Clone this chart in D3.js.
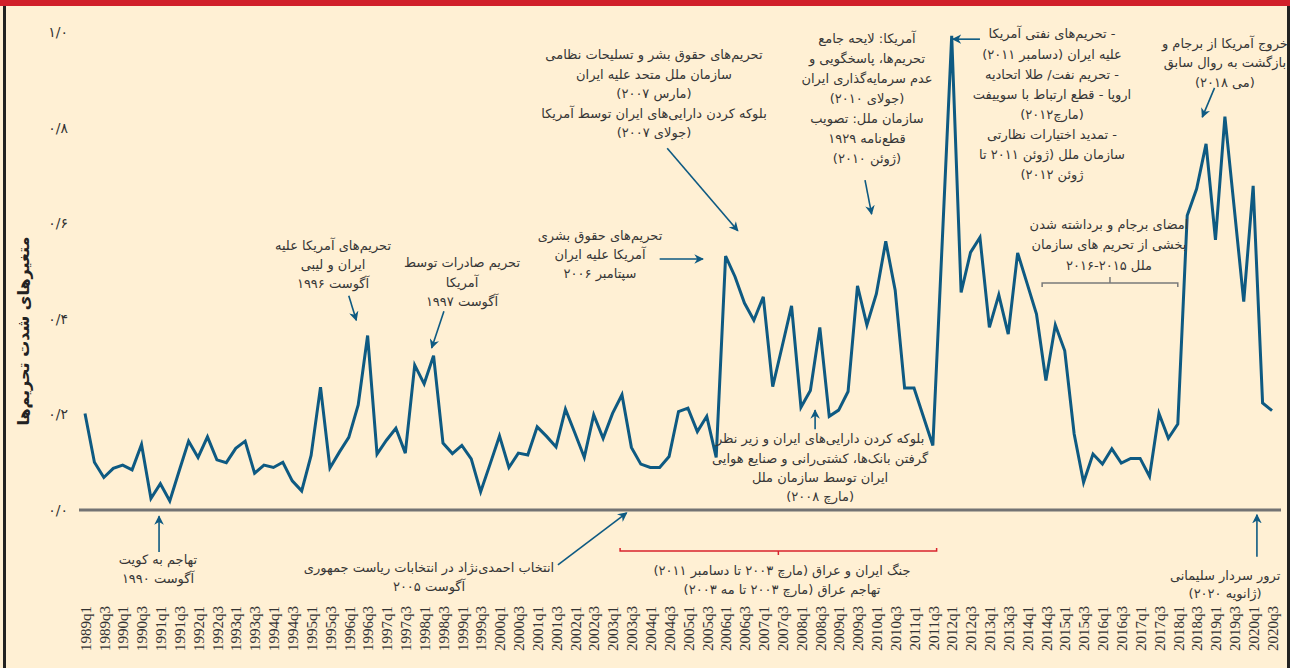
<!DOCTYPE html>
<html><head><meta charset="utf-8">
<script src="https://cdn.jsdelivr.net/npm/d3@7/dist/d3.min.js"></script>
<style>
html,body{margin:0;padding:0;background:#fff0d4;}
svg{display:block;}
</style></head><body>
<svg id="chart" width="1290" height="668"></svg>
<script>
// ---------- DATA ----------
const startYear = 1989;
const endYear = 2020, endQuarter = 3;
// sanctions intensity index, quarterly 1989q1 .. 2020q3
const sanctionIndex = [
  0.202,0.100,0.068,0.087,0.094,0.084,0.137,0.024,0.055,0.019,
  0.082,0.144,0.110,0.153,0.105,0.099,0.129,0.144,0.077,0.094,
  0.089,0.100,0.061,0.040,0.114,0.257,0.088,0.121,0.152,0.220,
  0.365,0.117,0.146,0.171,0.119,0.303,0.264,0.323,0.140,0.118,
  0.135,0.107,0.038,0.096,0.155,0.089,0.119,0.115,0.174,0.154,
  0.132,0.211,0.161,0.110,0.199,0.150,0.202,0.241,0.131,0.096,
  0.089,0.089,0.112,0.206,0.213,0.164,0.196,0.110,0.531,0.488,
  0.433,0.397,0.446,0.258,0.342,0.427,0.215,0.250,0.382,0.196,
  0.209,0.248,0.469,0.387,0.452,0.562,0.460,0.255,0.255,0.195,
  0.135,0.563,0.992,0.455,0.539,0.570,0.382,0.450,0.368,0.538,
  0.474,0.410,0.271,0.387,0.333,0.159,0.058,0.117,0.096,0.128,
  0.098,0.108,0.108,0.070,0.202,0.150,0.180,0.616,0.672,0.766,
  0.565,0.823,0.630,0.436,0.678,0.224,0.208
];
const yTickValues = [0, 0.2, 0.4, 0.6, 0.8, 1.0];
const yTickLabels = ["۰/۰","۰/۲","۰/۴","۰/۶","۰/۸","۱/۰"];
const yTitle = "متغیرهای شدت تحریم‌ها";

// quarter categories
const categories = [];
for (let y = startYear; y <= endYear; y++) {
  for (let q = 1; q <= 4; q++) {
    if (y === endYear && q > endQuarter) break;
    categories.push(y + "q" + q);
  }
}
const xTickLabels = categories.filter((c, i) => i % 2 === 0);

// annotations: text lines
const annoTexts = [
  ["تحریم‌های آمریکا علیه","ایران و لیبی","آگوست ۱۹۹۶"],
  ["تحریم صادرات توسط","آمریکا","آگوست ۱۹۹۷"],
  ["تحریم‌های حقوق بشری","آمریکا علیه ایران","سپتامبر ۲۰۰۶"],
  ["تحریم‌های حقوق بشر و تسلیحات نظامی","سازمان ملل متحد علیه ایران","(مارس ۲۰۰۷)","بلوکه کردن  دارایی‌های ایران توسط آمریکا","(جولای ۲۰۰۷)"],
  ["آمریکا:  لایحه جامع","تحریم‌ها، پاسخگویی و","عدم سرمایه‌گذاری ایران","(جولای ۲۰۱۰)","سازمان ملل:  تصویب","قطع‌نامه ۱۹۲۹","(ژوئن ۲۰۱۰)"],
  ["- تحریم‌های نفتی آمریکا","علیه ایران (دسامبر ۲۰۱۱)","- تحریم نفت/ طلا اتحادیه","اروپا - قطع ارتباط با سوییفت","(مارچ۲۰۱۲)","- تمدید اختیارات نظارتی","سازمان ملل (ژوئن ۲۰۱۱ تا","ژوئن ۲۰۱۲)"],
  ["خروج آمریکا از برجام و","بازگشت به روال سابق","(می ۲۰۱۸)"],
  ["امضای برجام و برداشته شدن","بخشی از تحریم های سازمان","ملل ۲۰۱۵-۲۰۱۶"],
  ["بلوکه کردن دارایی‌های ایران و زیر نظر","گرفتن بانک‌ها، کشتی‌رانی و صنایع هوایی","ایران توسط سازمان ملل","(مارچ ۲۰۰۸)"],
  ["تهاجم به کویت","آگوست ۱۹۹۰"],
  ["انتخاب احمدی‌نژاد در انتخابات ریاست جمهوری","آگوست ۲۰۰۵"],
  ["جنگ ایران و عراق  (مارچ ۲۰۰۳ تا دسامبر ۲۰۱۱)","تهاجم عراق (مارچ ۲۰۰۳ تا مه ۲۰۰۳)"],
  ["ترور سردار سلیمانی","(ژانویه ۲۰۲۰)"]
];
// annotation anchors in chart units: [quarter index, index value] of first line centre, line step px
const annoPos = [
  [26.33,0.554,19],[40.02,0.517,19.5],[54.67,0.575,19],[60.40,0.952,19.5],
  [83.01,0.987,20],[102.65,0.996,20.1],[121.0,0.977,19.5],[108.70,0.598,20.5],
  [78.03,0.149,19.3],[7.75,-0.103,19],[36.52,-0.121,19],[73.99,-0.126,19],[121.02,-0.136,18.5]
];
// arrows in chart units: [i1, v1, i2, v2]
const arrows = [
  [28.0,0.448,28.8,0.397],
  [38.1,0.416,36.8,0.339],
  [61.0,0.525,65.6,0.525],
  [61.8,0.757,69.3,0.584],
  [82.8,0.690,83.5,0.619],
  [95.0,0.985,92.1,0.985],
  [119.9,0.883,118.6,0.822],
  [77.5,0.169,77.5,0.209],
  [7.86,-0.088,7.86,-0.013],
  [50.2,-0.115,57.5,-0.006],
  [124.4,-0.098,124.4,-0.010]
];
// brackets [i1, i2, v]
const jcpoaBracket = [101.6, 116.0, 0.475];
const warBracket = [56.8, 90.4, -0.086];

// ---------- DRAW ----------
const W = 1290, H = 668;
const svg = d3.select("#chart");
const x = d3.scaleLinear().domain([0, categories.length - 1]).range([85, 1272]);
const y = d3.scaleLinear().domain([0, 1]).range([510, 32]);

const persianFont = "'DejaVu Sans', sans-serif";
const blue = "#0e5a82";
const textCol = "#363636";

svg.append("rect").attr("width", W).attr("height", H).attr("fill", "#fff0d4");
svg.append("rect").attr("x",0).attr("y",0).attr("width",W).attr("height",6).attr("fill","#d1202a");
svg.append("line").attr("x1",4.5).attr("x2",4.5).attr("y1",6).attr("y2",H).attr("stroke","#222").attr("stroke-width",3);
svg.append("line").attr("x1",1288.5).attr("x2",1288.5).attr("y1",6).attr("y2",H).attr("stroke","#222").attr("stroke-width",3);

const defs = svg.append("defs");
defs.append("marker").attr("id","arr").attr("viewBox","0 0 10 10").attr("refX",9).attr("refY",5)
  .attr("markerWidth",6).attr("markerHeight",6).attr("orient","auto")
  .append("path").attr("d","M0,0 L10,5 L0,10 L3,5 Z").attr("fill",blue);

// y axis
const yAxis = d3.axisLeft(y).tickValues(yTickValues)
  .tickFormat((d,i) => yTickLabels[i]).tickSize(0).tickPadding(0);
const gy = svg.append("g").attr("transform","translate(68,0)").call(yAxis);
gy.select(".domain").remove();
gy.selectAll("text").attr("font-family", persianFont).attr("font-size", 14).attr("fill", "#333");

svg.append("text").attr("transform","translate(23,331) rotate(-90)")
  .attr("text-anchor","middle").attr("dominant-baseline","central")
  .attr("direction","rtl")
  .attr("font-family",persianFont).attr("font-weight","bold").attr("font-size",16).attr("fill","#222")
  .text(yTitle);

// x axis
const xAxis = d3.axisBottom(x).tickValues(d3.range(0, categories.length, 2))
  .tickFormat(i => xTickLabels[i/2]).tickSize(0);
const gx = svg.append("g").attr("transform","translate(0,600)").call(xAxis);
gx.select(".domain").remove();
gx.selectAll("text").attr("transform","rotate(-90)").attr("text-anchor","end")
  .attr("x",-6).attr("y",0).attr("dy","0.35em")
  .attr("font-family","'Liberation Serif', serif").attr("font-size",15).attr("fill","#333");

// zero baseline
svg.append("line").attr("x1",79).attr("x2",1281).attr("y1",y(0)).attr("y2",y(0))
  .attr("stroke","#737373").attr("stroke-width",3);

// series line
const line = d3.line().x((d,i) => x(i)).y(d => y(d));
svg.append("path").datum(sanctionIndex).attr("d", line)
  .attr("fill","none").attr("stroke",blue).attr("stroke-width",3).attr("stroke-linejoin","miter");

// arrows
svg.append("g").selectAll("line").data(arrows).join("line")
  .attr("x1",d=>x(d[0])).attr("y1",d=>y(d[1])).attr("x2",d=>x(d[2])).attr("y2",d=>y(d[3]))
  .attr("stroke",blue).attr("stroke-width",1.6).attr("marker-end","url(#arr)");

// brackets
function bracket(b, color, endDir, midDir, endLen, midLen) {
  const x1 = x(b[0]), x2 = x(b[1]), yy = y(b[2]), xm = (x1+x2)/2;
  const p = `M${x1},${yy+endDir*endLen} L${x1},${yy} L${x2},${yy} L${x2},${yy+endDir*endLen} M${xm},${yy} L${xm},${yy+midDir*midLen}`;
  svg.append("path").attr("d",p).attr("fill","none").attr("stroke",color).attr("stroke-width",1.5);
}
bracket(jcpoaBracket, "#7a7a7a", 1, -1, 4, 6);
bracket(warBracket, "#d9232d", -1, 1, 3, 4);

// annotation texts
annoTexts.forEach((lines, k) => {
  const [ai, av, step] = annoPos[k];
  const t = svg.append("text").attr("font-family",persianFont).attr("font-size",13)
    .attr("fill",textCol).attr("text-anchor","middle").attr("direction","rtl");
  lines.forEach((s, j) => {
    t.append("tspan").attr("x", x(ai)).attr("y", y(av) + j*step).attr("dy","0.35em").text(s);
  });
});
</script>
</body></html>
